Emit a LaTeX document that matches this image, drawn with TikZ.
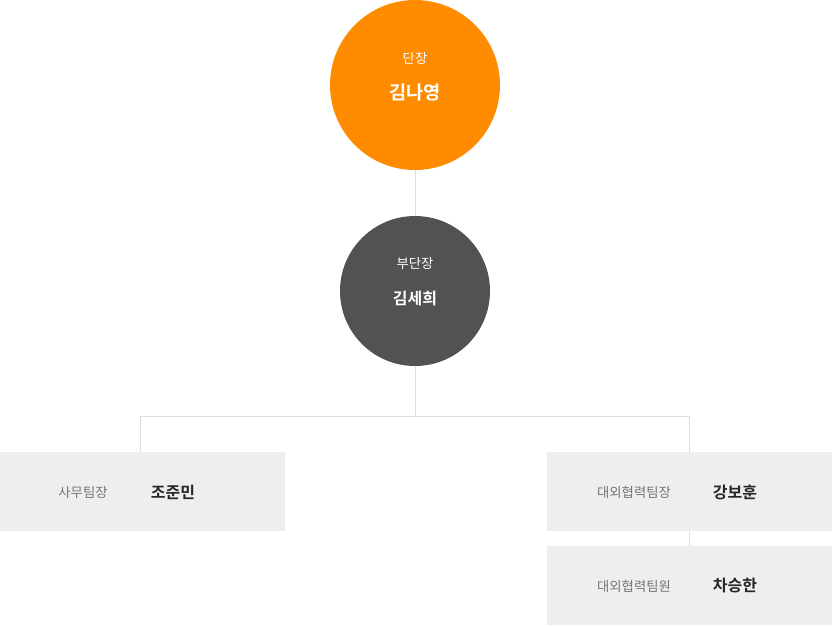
\documentclass[tikz,border=0pt]{standalone}
\usepackage{fontspec}
\setmainfont{Noto Sans CJK KR}
\newfontfamily\krbold{Noto Sans CJK KR Bold}
\usetikzlibrary{positioning}
\definecolor{headorange}{HTML}{FF8C00}
\definecolor{subgray}{HTML}{525252}
\definecolor{boxgray}{HTML}{EEEEEE}
\definecolor{linegray}{HTML}{DDDDDD}
\definecolor{rolegray}{HTML}{777777}
\begin{document}
\begin{tikzpicture}[
                x=0.75pt, y=-0.75pt,
                person/.style={circle, inner sep=0pt},
                teambox/.style={fill=boxgray, draw=none, minimum width=213.75pt, minimum height=59.25pt, inner sep=0pt},
                rolelabel/.style={text=rolegray, font=\fontsize{10}{12}\selectfont},
                personname/.style={text=black!85, font=\krbold\fontsize{12}{14}\selectfont},
                link/.style={draw=linegray, line width=0.75pt}
            ]
                \useasboundingbox (0,0) rectangle (832,626);
                % Circles
                \node[person, fill=headorange, minimum size=127.5pt] (head) at (415,85) {};
                \node[person, fill=subgray, minimum size=112.5pt] (sub) at (415,291) {};
                \node[text=white, font=\fontsize{10}{12}\selectfont] (headrole) at (415,58) {단장};
                \node[text=white, font=\krbold\fontsize{14}{16}\selectfont] (headname) at (415,92) {김나영};
                \node[text=white, font=\fontsize{10}{12}\selectfont] (subrole) at (415,263) {부단장};
                \node[text=white, font=\krbold\fontsize{12}{14}\selectfont] (subname) at (415,298) {김세희};

                % Boxes
                \node[teambox] (office) at (142.5,491.5) {};
                \node[teambox] (outer) at (689.5,491.5) {};
                \node[teambox] (member) at (689.5,585.5) {};
                \node[rolelabel] at (83,492) {사무팀장};
                \node[personname] at (173,492) {조준민};
                \node[rolelabel] at (634,492) {대외협력팀장};
                \node[personname] at (735,492) {강보훈};
                \node[rolelabel] at (634,586) {대외협력팀원};
                \node[personname] at (735,586) {차승한};

                % Lines
                \coordinate (split) at (415,416);
                \coordinate (leftend) at (140,416);
                \coordinate (rightend) at (689,416);
                \path[link]
                    (head) -- (sub)
                    (sub) -- (split)
                    (leftend) -- (rightend)
                    (leftend) -- (leftend |- office.north)
                    (rightend) -- (rightend |- outer.north)
                    (outer.south) -- (member.north);
            \end{tikzpicture}
\end{document}
